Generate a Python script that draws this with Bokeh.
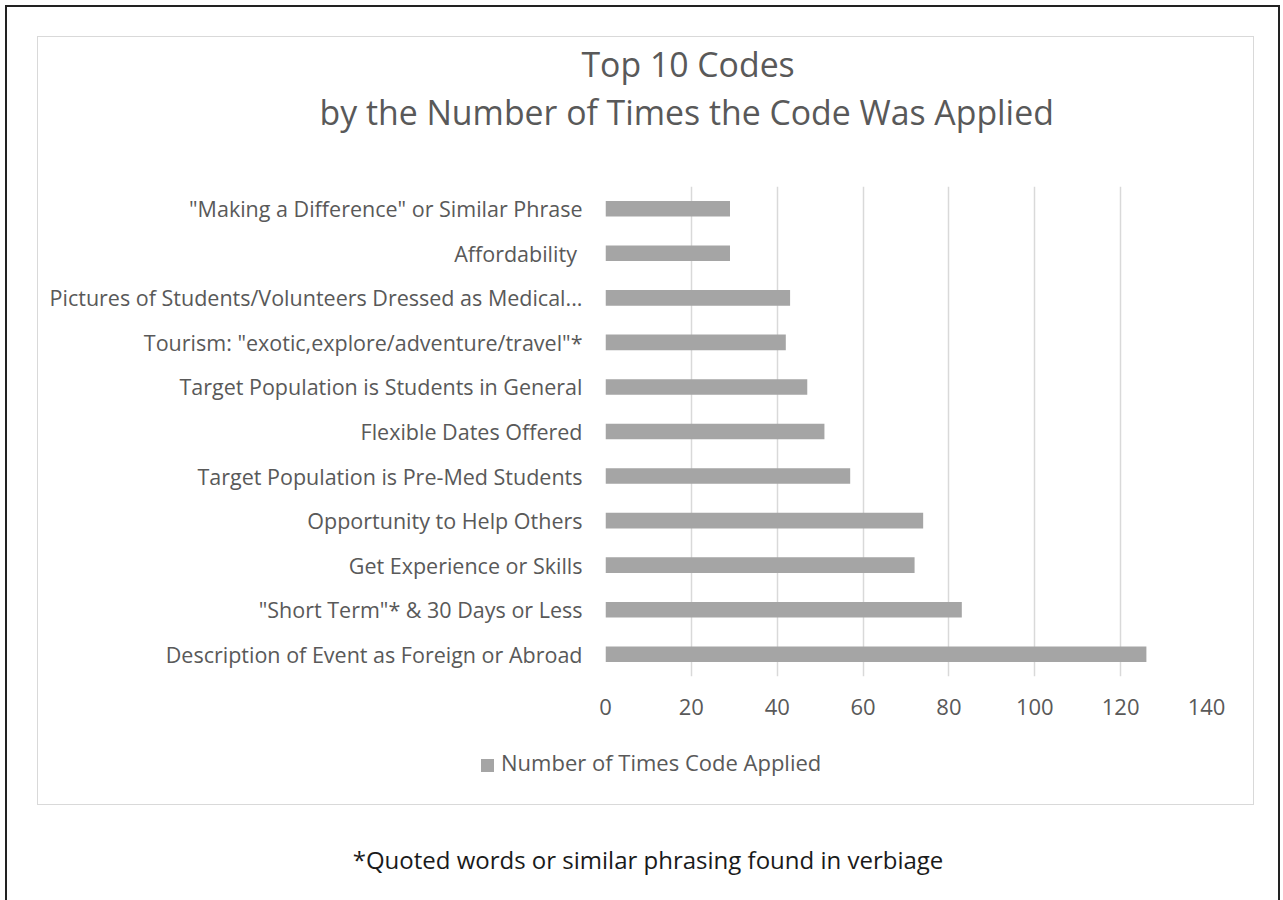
from bokeh.plotting import figure
from bokeh.models import FactorRange, SingleIntervalTicker, Title, Div
from bokeh.layouts import column
from bokeh.embed import file_html
from bokeh.resources import INLINE

# Data (top to bottom as shown in the chart)
codes = [
    '"Making a Difference" or Similar Phrase',
    'Affordability ',
    'Pictures of Students/Volunteers Dressed as Medical...',
    'Tourism: "exotic,explore/adventure/travel"*',
    'Target Population is Students in General',
    'Flexible Dates Offered',
    'Target Population is Pre-Med Students',
    'Opportunity to Help Others',
    'Get Experience or Skills',
    '"Short Term"* & 30 Days or Less',
    'Description of Event as Foreign or Abroad',
]
counts = [29, 29, 43, 42, 47, 51, 57, 74, 72, 83, 126]
series_name = "Number of Times Code Applied"
title_lines = ["Top 10 Codes", "by the Number of Times the Code Was Applied"]
footnote = "*Quoted words or similar phrasing found in verbiage"

FONT = "Open Sans"
GREY_TXT = "#595959"
BAR = "#A5A5A5"
W = 1215

factors = list(reversed(codes))
p = figure(width=W, height=698, x_range=(0, 140), y_range=FactorRange(factors=factors, range_padding=0),
           output_backend="svg", toolbar_location=None, title=None,
           min_border_left=567, min_border_right=W - 567 - 601, min_border_top=149, min_border_bottom=59)
p.outline_line_color = None
p.background_fill_color = "white"
p.border_fill_color = "white"

r = p.hbar(y=codes, right=counts, height=0.35, fill_color=BAR, line_color=None)

p.xaxis.ticker = SingleIntervalTicker(interval=20)
p.xaxis.axis_line_color = None
p.xaxis.major_tick_line_color = None
p.xaxis.minor_tick_line_color = None
p.xaxis.major_label_text_font = FONT
p.xaxis.major_label_text_font_size = "22px"
p.xaxis.major_label_text_color = GREY_TXT
p.xaxis.major_label_standoff = 16

p.yaxis.axis_line_color = None
p.yaxis.major_tick_line_color = None
p.yaxis.major_tick_out = 0
p.yaxis.major_label_text_font = FONT
p.yaxis.major_label_text_font_size = "21.5px"
p.yaxis.major_label_text_color = GREY_TXT
p.yaxis.major_label_standoff = 23

p.xgrid.grid_line_color = "#D9D9D9"
p.xgrid.grid_line_width = 1.5
p.ygrid.grid_line_color = None

# titles: stacked above the frame (first added = nearest the frame)
p.add_layout(Title(text=" ", text_font_size="1px", standoff=48), "above")
p.add_layout(Title(text=title_lines[1], align="left", offset=-286, standoff=0, vertical_align="middle",
                   text_font=FONT, text_font_size="33.8px", text_font_style="normal",
                   text_color=GREY_TXT), "above")
p.add_layout(Title(text=title_lines[0], align="left", offset=-24, standoff=0, vertical_align="middle",
                   text_font=FONT, text_font_size="33.8px", text_font_style="normal",
                   text_color=GREY_TXT), "above")

# legend strip below the plot area (inside the chart frame)
legend_div = Div(
    text=('<span style="display:inline-block;width:13px;height:13px;background:%s;'
          'margin-right:7px;vertical-align:-1px"></span>%s' % (BAR, series_name)),
    width=380, height=26, margin=(14, 0, 29, 443),
    styles={"font-family": FONT, "font-size": "22px", "line-height": "26px",
            "color": GREY_TXT, "white-space": "nowrap"})

inner = column(p, legend_div, styles={"border": "1px solid #D9D9D9"}, margin=(29, 0, 0, 30))

foot = Div(text=footnote, width=1260, margin=(38, 0, 40, 11),
           styles={"font-family": FONT, "font-size": "24px", "color": "#1a1a1a", "text-align": "center"})

root = column(inner, foot, styles={"border": "2px solid #222222"}, margin=(5, 0, 0, 5))

open("out.html", "w").write(file_html(root, INLINE))
